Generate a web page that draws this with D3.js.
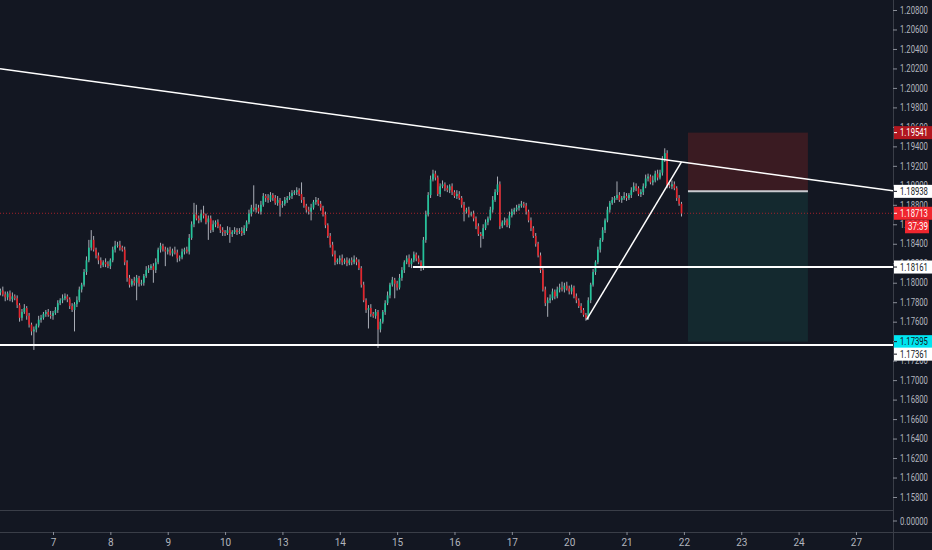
<!DOCTYPE html>
<html>
<head>
<meta charset="utf-8">
<script src="https://cdn.jsdelivr.net/npm/d3@7"></script>
<style>
  html, body { margin: 0; padding: 0; background: #131722; overflow: hidden; }
  svg { display: block; }
  text { font-family: "Liberation Sans Narrow", "Roboto", sans-serif; }
</style>
</head>
<body>
<div id="chart"></div>
<script>
// EURUSD 1h candles (closes; open = previous close)
const firstOpen = 1.1788;
const closes = [
  1.1790, 1.1792, 1.1788, 1.1785, 1.1789, 1.1783, 1.1786, 1.1784, 1.1777, 1.1764,
  1.1770, 1.1774, 1.1766, 1.1757, 1.1750, 1.1752, 1.1756, 1.1762, 1.1764, 1.1768,
  1.1770, 1.1767, 1.1766, 1.1769, 1.1772, 1.1779, 1.1782, 1.1784, 1.1786, 1.1783,
  1.1776, 1.1772, 1.1778, 1.1782, 1.1793, 1.1798, 1.1811, 1.1823, 1.1836, 1.1844,
  1.1834, 1.1828, 1.1823, 1.1818, 1.1821, 1.1819, 1.1817, 1.1823, 1.1834, 1.1838,
  1.1839, 1.1836, 1.1834, 1.1821, 1.1805, 1.1798, 1.1802, 1.1800, 1.1805, 1.1799,
  1.1800, 1.1807, 1.1813, 1.1815, 1.1817, 1.1813, 1.1821, 1.1834, 1.1838, 1.1834,
  1.1832, 1.1834, 1.1830, 1.1833, 1.1831, 1.1825, 1.1826, 1.1832, 1.1834, 1.1832,
  1.1846, 1.1860, 1.1870, 1.1866, 1.1864, 1.1871, 1.1869, 1.1862, 1.1866, 1.1854,
  1.1860, 1.1862, 1.1858, 1.1854, 1.1852, 1.1851, 1.1854, 1.1850, 1.1852, 1.1854,
  1.1852, 1.1853, 1.1851, 1.1856, 1.1862, 1.1871, 1.1877, 1.1875, 1.1877, 1.1873,
  1.1880, 1.1889, 1.1887, 1.1885, 1.1890, 1.1887, 1.1882, 1.1885, 1.1880, 1.1881,
  1.1885, 1.1887, 1.1889, 1.1892, 1.1893, 1.1895, 1.1891, 1.1885, 1.1879, 1.1875,
  1.1873, 1.1877, 1.1883, 1.1885, 1.1881, 1.1877, 1.1870, 1.1859, 1.1848, 1.1839,
  1.1829, 1.1821, 1.1823, 1.1825, 1.1821, 1.1823, 1.1820, 1.1823, 1.1821, 1.1824,
  1.1821, 1.1815, 1.1798, 1.1782, 1.1772, 1.1774, 1.1768, 1.1766, 1.1770, 1.1752,
  1.1760, 1.1770, 1.1779, 1.1787, 1.1798, 1.1803, 1.1799, 1.1795, 1.1805, 1.1813,
  1.1821, 1.1825, 1.1819, 1.1823, 1.1829, 1.1825, 1.1821, 1.1815, 1.1844, 1.1870,
  1.1890, 1.1906, 1.1912, 1.1908, 1.1891, 1.1899, 1.1901, 1.1897, 1.1895, 1.1899,
  1.1893, 1.1889, 1.1891, 1.1887, 1.1880, 1.1873, 1.1875, 1.1870, 1.1871, 1.1866,
  1.1858, 1.1850, 1.1848, 1.1856, 1.1862, 1.1866, 1.1875, 1.1885, 1.1893, 1.1901,
  1.1858, 1.1862, 1.1864, 1.1859, 1.1869, 1.1873, 1.1875, 1.1877, 1.1879, 1.1881,
  1.1879, 1.1873, 1.1864, 1.1856, 1.1848, 1.1840, 1.1828, 1.1813, 1.1793, 1.1779,
  1.1782, 1.1784, 1.1791, 1.1786, 1.1793, 1.1795, 1.1793, 1.1797, 1.1794, 1.1791,
  1.1795, 1.1786, 1.1782, 1.1776, 1.1772, 1.1767, 1.1764, 1.1782, 1.1798, 1.1811,
  1.1821, 1.1834, 1.1844, 1.1854, 1.1864, 1.1875, 1.1882, 1.1885, 1.1887, 1.1890,
  1.1885, 1.1887, 1.1889, 1.1887, 1.1890, 1.1895, 1.1899, 1.1897, 1.1891, 1.1893,
  1.1899, 1.1907, 1.1909, 1.1903, 1.1905, 1.1912, 1.1908, 1.1913, 1.1926, 1.1933,
  1.1900, 1.1899, 1.1901, 1.1897, 1.1887, 1.1881, 1.1871
];
// wick lengths beyond the body, in pips
const wickHi = [
  3,2,4,3,2,3,4,2,3,2, 3,4,2,3,2,3,2,4,3,2, 2,3,4,2,3,3,2,4,3,2, 2,3,2,4,3,2,3,4,8,10,
  4,2,3,3,2,4,3,2,3,5, 3,4,2,3,2,3,2,4,3,2, 3,2,4,3,2,3,4,2,3,2, 3,2,3,2,4,3,2,3,2,3,
  4,3,12,10,3,4,8,2,3,3, 4,2,3,2,3,2,4,3,2,3, 2,3,4,3,2,4,3,23,4,3, 4,3,2,4,3,2,3,4,2,3,
  3,2,4,3,2,3,2,12,3,2, 3,4,2,3,2,3,2,3,2,3, 3,4,2,3,4,2,3,2,3,4, 2,3,2,3,2,3,4,2,3,2,
  3,2,3,4,2,3,2,3,4,3, 2,3,4,2,3,2,3,2,3,4, 3,4,4,3,2,3,4,2,3,2, 3,2,4,3,2,3,2,3,2,3,
  2,3,2,4,3,2,3,4,3,8, 3,2,3,2,4,3,2,3,2,3, 2,3,2,3,2,3,2,3,2,3, 3,4,3,2,3,4,6,3,4,3,
  3,2,3,2,3,2,2,3,2,3, 2,3,2,3,2,3,2,3,2,14, 3,2,4,3,2,3,4,3,2,3, 3,4,3,2,5,3,4,3,4,5,
  3,2,4,3,2,3,2
];
const wickLo = [
  2,3,2,4,3,2,3,2,3,4, 3,2,4,3,4,19,3,2,3,2, 3,2,3,4,2,3,2,3,2,3, 3,2,22,3,2,3,2,3,2,3,
  2,3,4,3,2,3,2,3,2,3, 2,3,2,3,4,3,2,3,18,3, 2,3,2,3,2,13,3,2,3,2, 15,3,2,3,2,4,3,2,3,2,
  3,2,3,2,3,2,3,2,18,3, 2,3,2,3,4,3,2,9,3,2, 3,2,3,2,3,2,3,2,3,2, 3,2,4,3,2,3,2,3,12,3,
  2,3,2,3,2,3,2,3,2,3, 3,9,2,3,2,3,2,3,2,3, 2,3,2,4,3,2,3,2,3,2, 3,2,3,2,3,19,3,2,3,19,
  3,2,3,2,3,2,15,3,2,3, 3,2,3,4,2,3,2,3,2,3, 2,3,2,3,2,3,2,3,2,3, 3,2,3,2,3,10,2,3,2,3,
  3,2,12,3,2,3,2,3,2,3, 3,2,3,2,3,2,3,2,3,2, 2,3,2,3,2,3,2,3,2,3, 14,3,2,3,2,3,2,3,2,3,
  3,2,3,2,3,2,3,2,3,2, 3,2,3,2,3,2,3,2,3,2, 2,3,2,3,2,3,2,3,2,3, 3,2,3,2,3,2,3,2,3,2,
  3,2,3,2,3,2,3
];

const dayLabels = ["7", "8", "9", "10", "13", "14", "15", "16", "17", "20", "21", "22", "23", "24", "27"];
const dayStartBar = 23;          // bar index where day "7" opens
const barsPerDay = 24;

const priceTicks = [1.158, 1.160, 1.162, 1.164, 1.166, 1.168, 1.170, 1.172, 1.174, 1.176, 1.178, 1.180,
  1.182, 1.184, 1.186, 1.188, 1.190, 1.192, 1.194, 1.196, 1.198, 1.200, 1.202, 1.204, 1.206, 1.208];

// drawings: [bar index, price]
const trendLine = [[0, 1.2020], [286, 1.1924]];
const riseLine = [[246.3, 1.1762], [286, 1.1924]];
const resistLevel = 1.18161, resistFrom = 173.6;
const supportLevel = 1.17361;
const lastPrice = 1.18713;
const countdown = "37:39";
const posBars = [288.7, 338.9];
const posEntry = 1.18938, posStop = 1.19541, posTarget = 1.17395;

const W = 932, H = 550, plotR = 893, plotB = 510, axisTop = 532;

const svg = d3.select("#chart").append("svg").attr("width", W).attr("height", H);
svg.append("rect").attr("width", W).attr("height", H).attr("fill", "#131722");

const x = d3.scaleLinear().domain([0.82, 374.5]).range([0, plotR]);
const y = d3.scaleLinear().domain([1.158, 1.208]).range([497, 10]);

// squeeze a price text horizontally so it fits the narrow price scale
function fitText(sel, width) {
  sel.each(function () {
    const w = this.getComputedTextLength();
    const k = w > width ? width / w : 1;
    const x0 = +this.getAttribute("x") || 0;
    d3.select(this).attr("x", 0).attr("transform", `translate(${x0},0) scale(${k},1)`);
  });
}

svg.append("clipPath").attr("id", "plot")
  .append("rect").attr("width", plotR).attr("height", plotB);
const g = svg.append("g").attr("clip-path", "url(#plot)");

// position tool zones
g.append("rect")
  .attr("x", x(posBars[0])).attr("width", x(posBars[1]) - x(posBars[0]))
  .attr("y", y(posStop)).attr("height", y(posEntry) - y(posStop))
  .attr("fill", "#3a1b22");
g.append("rect")
  .attr("x", x(posBars[0])).attr("width", x(posBars[1]) - x(posBars[0]))
  .attr("y", y(posEntry)).attr("height", y(posTarget) - y(posEntry))
  .attr("fill", "#14292f");

// last price dotted line
g.append("line")
  .attr("x1", 0).attr("x2", plotR).attr("y1", y(lastPrice)).attr("y2", y(lastPrice))
  .attr("stroke", "#a3212a").attr("stroke-width", 1).attr("stroke-dasharray", "1,2");

// candles
const candles = closes.map((c, i) => {
  const o = i === 0 ? firstOpen : closes[i - 1];
  return { i, o, c, h: Math.max(o, c) + wickHi[i] / 1e4, l: Math.min(o, c) - wickLo[i] / 1e4 };
});
const bw = 1.7;
g.selectAll("line.wick").data(candles).join("line")
  .attr("class", "wick")
  .attr("x1", d => x(d.i)).attr("x2", d => x(d.i))
  .attr("y1", d => y(d.h)).attr("y2", d => y(d.l))
  .attr("stroke", "#a9adb6").attr("stroke-width", 1);
g.selectAll("rect.body").data(candles).join("rect")
  .attr("class", "body")
  .attr("x", d => x(d.i) - bw / 2).attr("width", bw)
  .attr("y", d => y(Math.max(d.o, d.c)))
  .attr("height", d => Math.max(1, Math.abs(y(d.o) - y(d.c))))
  .attr("fill", d => d.c >= d.o ? "#22c39a" : "#e3242b");

// drawings
const line = d3.line().x(d => x(d[0])).y(d => y(d[1]));
const slope = (trendLine[1][1] - trendLine[0][1]) / (trendLine[1][0] - trendLine[0][0]);
const [b0, b1] = x.domain();
g.append("path")
  .attr("d", line([[b0, trendLine[0][1] + slope * (b0 - trendLine[0][0])],
                   [b1, trendLine[0][1] + slope * (b1 - trendLine[0][0])]]))
  .attr("stroke", "#ffffff").attr("stroke-width", 1.5).attr("fill", "none");
g.append("path").attr("d", line(riseLine))
  .attr("stroke", "#ffffff").attr("stroke-width", 1.5).attr("fill", "none");
g.append("path").attr("d", line([[resistFrom, resistLevel], [b1, resistLevel]]))
  .attr("stroke", "#ffffff").attr("stroke-width", 2).attr("fill", "none");
g.append("path").attr("d", line([[b0, supportLevel], [b1, supportLevel]]))
  .attr("stroke", "#ffffff").attr("stroke-width", 2).attr("fill", "none");
g.append("path").attr("d", line([[posBars[0], posEntry], [posBars[1], posEntry]]))
  .attr("stroke", "#c9cbd0").attr("stroke-width", 2).attr("fill", "none");

// pane separators and borders
svg.append("line").attr("x1", 0).attr("x2", plotR).attr("y1", plotB + 0.5).attr("y2", plotB + 0.5)
  .attr("stroke", "#3a3e48");
svg.append("line").attr("x1", 0).attr("x2", W).attr("y1", axisTop + 0.5).attr("y2", axisTop + 0.5)
  .attr("stroke", "#3a3e48");
svg.append("line").attr("x1", plotR + 0.5).attr("x2", plotR + 0.5).attr("y1", 0).attr("y2", H)
  .attr("stroke", "#3a3e48");

// price axis
const yAxis = svg.append("g").attr("transform", `translate(${plotR},0)`)
  .call(d3.axisRight(y).tickValues(priceTicks).tickFormat(d3.format(".5f")).tickSize(4).tickPadding(3));
yAxis.select(".domain").remove();
yAxis.selectAll(".tick line").attr("stroke", "#8a8e98");
yAxis.selectAll(".tick text").attr("fill", "#b2b5be").attr("font-size", 10).call(fitText, 28);

// indicator pane zero label
const zp = svg.append("g").attr("transform", `translate(${plotR},521)`);
zp.append("line").attr("x2", 4).attr("stroke", "#8a8e98");
zp.append("text").attr("x", 7).attr("dy", "0.35em").attr("fill", "#b2b5be").attr("font-size", 10)
  .text("0.00000").call(fitText, 28);

// time axis
const dayBars = dayLabels.map((d, k) => dayStartBar + k * barsPerDay);
const xAxis = svg.append("g").attr("transform", `translate(0,${axisTop})`)
  .call(d3.axisBottom(x).tickValues(dayBars).tickFormat((d, k) => dayLabels[k]).tickSize(3).tickPadding(4));
xAxis.select(".domain").remove();
xAxis.selectAll(".tick line").attr("stroke", "#8a8e98");
xAxis.selectAll(".tick text").attr("fill", "#b2b5be").attr("font-size", 10);

// price labels on the axis
const marks = [
  { v: posStop, bg: "#b0161e", fg: "#ffffff" },
  { v: posEntry, bg: "#ffffff", fg: "#131722" },
  { v: lastPrice, bg: "#f0262e", fg: "#ffffff" },
  { v: resistLevel, bg: "#ffffff", fg: "#131722" },
  { v: posTarget, bg: "#00e5f0", fg: "#131722" },
  { v: supportLevel, bg: "#ffffff", fg: "#131722" }
];
let prevY = -100;
marks.forEach(m => {
  let yy = y(m.v);
  if (yy - prevY < 12.5) yy = prevY + 12.5;
  prevY = yy;
  const lg = svg.append("g").attr("transform", `translate(${plotR},${yy})`);
  lg.append("rect").attr("x", 1).attr("y", -6.5).attr("width", W - plotR).attr("height", 13).attr("fill", m.bg);
  lg.append("line").attr("x1", 1).attr("x2", 4).attr("stroke", m.fg);
  lg.append("text").attr("x", 7).attr("dy", "0.35em").attr("fill", m.fg).attr("font-size", 10)
    .text(d3.format(".5f")(m.v)).call(fitText, 28);
});
// countdown under last price
const cd = svg.append("g").attr("transform", `translate(${plotR},${y(lastPrice) + 13.5})`);
cd.append("rect").attr("x", 12).attr("y", -6.5).attr("width", 24).attr("height", 13).attr("fill", "#f0262e");
cd.append("text").attr("x", 15).attr("dy", "0.35em")
  .attr("fill", "#ffffff").attr("font-size", 10).text(countdown).call(fitText, 20);
</script>
</body>
</html>
